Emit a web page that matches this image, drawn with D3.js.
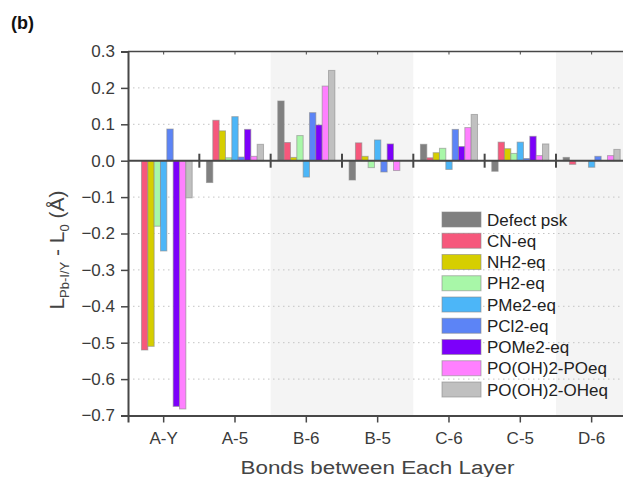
<!DOCTYPE html>
<html>
<head>
<meta charset="utf-8">
<script src="https://cdn.jsdelivr.net/npm/d3@7"></script>
<style>
html,body{margin:0;padding:0;background:#fff;}
svg{display:block;}
text{font-family:"Liberation Sans",Arial,Helvetica,sans-serif;}
</style>
</head>
<body>
<svg id="chart" width="623" height="477"></svg>
<script>
const categories = ["A-Y","A-5","B-6","B-5","C-6","C-5","D-6"];
const seriesNames = ["Defect psk","CN-eq","NH2-eq","PH2-eq","PMe2-eq","PCl2-eq","POMe2-eq","PO(OH)2-POeq","PO(OH)2-OHeq"];
const defectPsk = [0, -0.06, 0.164, -0.053, 0.045, -0.029, 0.009];
const cnEq      = [-0.52, 0.111, 0.05, 0.049, 0.008, 0.051, -0.01];
const nh2Eq     = [-0.51, 0.082, 0.009, 0.012, 0.022, 0.033, 0];
const ph2Eq     = [-0.18, 0.008, 0.069, -0.019, 0.034, 0.02, 0];
const pme2Eq    = [-0.248, 0.121, -0.045, 0.057, -0.024, 0.051, -0.018];
const pcl2Eq    = [0.087, 0.01, 0.132, -0.031, 0.086, 0.006, 0.012];
const pome2Eq   = [-0.675, 0.086, 0.098, 0.046, 0.039, 0.067, 0];
const poohPOeq  = [-0.682, 0.012, 0.205, -0.027, 0.091, 0.014, 0.014];
const poohOHeq  = [-0.102, 0.045, 0.248, 0, 0.127, 0.046, 0.031];
const yTicks = [0.3,0.2,0.1,0.0,-0.1,-0.2,-0.3,-0.4,-0.5,-0.6,-0.7];
const colors = ["#808080","#f6587c","#d6ce00","#a8f7a8","#4cb6f8","#5c84f6","#7c00fa","#ff80ff","#c0c0c0"];
const seriesValues = [defectPsk,cnEq,nh2Eq,ph2Eq,pme2Eq,pcl2Eq,pome2Eq,poohPOeq,poohOHeq];
const shaded = ["B-6","B-5","D-6"];

(function(){
const svg = d3.select("#chart");
const pLeft = 128, pRight = 627.3, pTop = 51.5, pBottom = 415.5;
const axisColor = "#474747";

const x0 = d3.scaleBand().domain(categories).range([pLeft, pRight]).padding(0);
const bw = x0.bandwidth();
const x1 = d3.scaleBand().domain(seriesNames).range([bw*0.1, bw*0.9]).padding(0);
const y = d3.scaleLinear().domain([-0.7, 0.3]).range([pBottom, pTop]);

// shading
svg.append("g").selectAll("rect").data(shaded).join("rect")
  .attr("x", d => x0(d)).attr("y", pTop)
  .attr("width", bw).attr("height", pBottom - pTop)
  .attr("fill", "#f4f4f4");

// grid
svg.append("g").selectAll("line").data(yTicks.filter(t => Math.abs(t) > 1e-9 && t < 0.29 && t > -0.69)).join("line")
  .attr("x1", pLeft).attr("x2", pRight)
  .attr("y1", d => y(d)).attr("y2", d => y(d))
  .attr("stroke", "#c4c4c4").attr("stroke-width", 1)
  .attr("stroke-dasharray", "1.5,3.5");

// bars
const barData = [];
seriesNames.forEach((s, si) => {
  categories.forEach((c, ci) => {
    barData.push({s, c, v: seriesValues[si][ci], color: colors[si]});
  });
});
svg.append("g").selectAll("rect").data(barData.filter(d => d.v !== 0)).join("rect")
  .attr("x", d => x0(d.c) + x1(d.s))
  .attr("y", d => y(Math.max(0, d.v)))
  .attr("width", x1.bandwidth())
  .attr("height", d => Math.abs(y(d.v) - y(0)))
  .attr("fill", d => d.color)
  .attr("stroke", "#8a8a8a").attr("stroke-opacity", 0.6).attr("stroke-width", 1);

// zero line and separators
svg.append("line").attr("x1", pLeft).attr("x2", pRight).attr("y1", y(0)).attr("y2", y(0))
  .attr("stroke", axisColor).attr("stroke-width", 2);
svg.append("g").selectAll("line").data(categories.slice(1)).join("line")
  .attr("x1", d => x0(d)).attr("x2", d => x0(d))
  .attr("y1", y(0) - 7).attr("y2", y(0) + 7)
  .attr("stroke", axisColor).attr("stroke-width", 2);

// top border
svg.append("line").attr("x1", pLeft).attr("x2", pRight).attr("y1", pTop).attr("y2", pTop)
  .attr("stroke", axisColor).attr("stroke-width", 1.5);
svg.append("g").selectAll("line").data(categories).join("line")
  .attr("x1", d => x0(d) + bw/2).attr("x2", d => x0(d) + bw/2)
  .attr("y1", pTop).attr("y2", pTop + 3)
  .attr("stroke", axisColor).attr("stroke-width", 1);

// y axis
const yAxis = d3.axisLeft(y).tickValues(yTicks).tickFormat(d3.format(".1f")).tickSize(7).tickPadding(6);
const gy = svg.append("g").attr("transform", `translate(${pLeft},0)`).call(yAxis);
gy.select(".domain").attr("stroke", axisColor).attr("stroke-width", 2);
gy.selectAll(".tick line").attr("stroke", axisColor).attr("stroke-width", 1.5);
gy.selectAll(".tick text").attr("fill", "#3a3a3a").style("font-size", "17px")
  .style("font-family", "'Liberation Sans', Arial, sans-serif");

// x axis
const xAxis = d3.axisBottom(x0).tickSize(7).tickPadding(9);
const gx = svg.append("g").attr("transform", `translate(0,${pBottom})`).call(xAxis);
gx.select(".domain").attr("stroke", axisColor).attr("stroke-width", 2);
gx.selectAll(".tick line").attr("stroke", axisColor).attr("stroke-width", 1.5);
gx.selectAll(".tick text").attr("fill", "#3a3a3a").style("font-size", "17px")
  .style("font-family", "'Liberation Sans', Arial, sans-serif");

// axis titles
svg.append("text").attr("x", 377.5).attr("y", 474)
  .attr("text-anchor", "middle").attr("fill", "#444")
  .attr("textLength", 274).attr("lengthAdjust", "spacingAndGlyphs")
  .style("font-size", "18px").text("Bonds between Each Layer");

const yl = svg.append("text").attr("transform", "translate(64,250) rotate(-90)")
  .attr("text-anchor", "middle").attr("fill", "#444").style("font-size", "21px");
yl.append("tspan").text("L");
yl.append("tspan").attr("dy", 5).style("font-size", "13px").text("Pb-I/Y");
yl.append("tspan").attr("dy", -5).text(" - L");
yl.append("tspan").attr("dy", 5).style("font-size", "13px").text("0");
yl.append("tspan").attr("dy", -5).text(" (Å)");

svg.append("text").attr("x", 11).attr("y", 29).attr("fill", "#111")
  .style("font-size", "18px").style("font-weight", "bold").text("(b)");

// legend
const lg = svg.append("g");
const lgItems = lg.selectAll("g").data(seriesNames).join("g")
  .attr("transform", (d, i) => `translate(442,${212 + i*21.25})`);
lgItems.append("rect").attr("width", 39).attr("height", 15)
  .attr("fill", (d, i) => colors[i])
  .attr("stroke", "#8a8a8a").attr("stroke-opacity", 0.6).attr("stroke-width", 1);
lgItems.append("text").attr("x", 45).attr("y", 13.5)
  .attr("fill", "#222").style("font-size", "17px").text(d => d);
})();
</script>
</body>
</html>
